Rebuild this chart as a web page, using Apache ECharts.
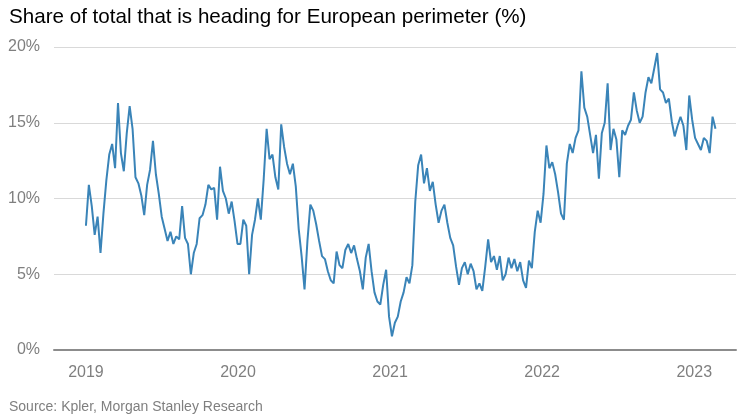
<!DOCTYPE html>
<html>
<head>
<meta charset="utf-8">
<script src="https://cdn.jsdelivr.net/npm/echarts@6/dist/echarts.min.js"></script>
<style>
html,body{margin:0;padding:0;background:#fff;}
#chart{width:737px;height:419px;}
</style>
</head>
<body>
<div id="chart"></div>
<script>
// Weekly readings starting 2019-01-01 (share heading for European perimeter, %)
const startYear = 2019;
const stepDays = 7;
const values = [
8.2,10.9,9.5,7.6,8.8,6.4,9.0,11.2,12.9,13.6,
12.0,16.3,13.0,11.8,14.3,16.1,14.6,11.4,11.0,10.2,
8.9,10.9,11.9,13.8,11.6,10.3,8.8,8.0,7.2,7.8,
7.0,7.5,7.3,9.5,7.4,7.0,5.0,6.4,7.0,8.7,
8.9,9.6,10.9,10.6,10.7,8.6,12.1,10.5,10.0,9.0,
9.8,8.5,7.0,7.0,8.6,8.2,5.0,7.6,8.6,10.0,
8.6,11.3,14.6,12.6,12.9,11.4,10.6,14.9,13.4,12.3,
11.6,12.3,10.8,8.0,6.2,4.0,7.2,9.6,9.2,8.3,
7.2,6.2,6.0,5.2,4.6,4.4,6.5,5.6,5.4,6.6,
7.0,6.4,6.9,6.0,5.2,4.0,6.1,7.0,5.2,3.8,
3.2,3.0,4.3,5.3,2.2,0.9,1.8,2.2,3.2,3.8,
4.8,4.4,5.6,9.8,12.2,12.9,11.0,12.0,10.5,11.1,
9.6,8.4,9.2,9.6,8.4,7.4,6.9,5.5,4.3,5.4,
5.8,5.0,5.7,5.2,4.0,4.4,3.9,5.5,7.3,5.8,
6.2,5.3,6.2,4.6,5.0,6.1,5.4,6.0,5.2,5.8,
4.6,4.1,5.9,5.4,7.8,9.2,8.4,10.3,13.5,12.0,
12.4,11.6,10.4,9.0,8.6,12.3,13.6,13.0,14.0,14.5,
18.4,16.0,15.4,14.2,13.0,14.2,11.3,14.3,15.0,17.6,
13.2,14.6,13.9,11.4,14.5,14.2,14.8,15.2,17.0,15.8,
15.0,15.4,17.0,18.0,17.6,18.6,19.6,17.2,17.0,16.3,
16.6,15.1,14.1,14.8,15.4,14.8,13.2,16.8,15.2,14.0,
13.6,13.2,14.0,13.8,13.0,15.4,14.6
];
const yearTicks = [2019, 2020, 2021, 2022, 2023];
const yTicks = [0, 5, 10, 15, 20];
const titleText = 'Share of total that is heading for European perimeter (%)';
const sourceText = 'Source: Kpler, Morgan Stanley Research';

const seriesData = values.map((v, i) => [startYear + i * stepDays / 365.25, v]);

const FONT = '"Liberation Sans", Arial, sans-serif';
const chart = echarts.init(document.getElementById('chart'), null, {renderer: 'canvas'});
chart.setOption({
  animation: false,
  backgroundColor: '#ffffff',
  title: [{
    text: titleText, left: 4, top: 2,
    textStyle: {fontFamily: FONT, fontSize: 20.6, fontWeight: 'normal', color: '#000000'}
  }, {
    text: sourceText, left: 4, top: 395,
    textStyle: {fontFamily: FONT, fontSize: 14, fontWeight: 'normal', color: '#7f7f7f'}
  }],
  grid: {left: 54, right: 1, top: 47, bottom: 69, containLabel: false},
  xAxis: {
    type: 'value',
    min: 2018.79, max: 2023.2746,
    splitLine: {show: false},
    axisTick: {show: false},
    axisLine: {show: true, lineStyle: {color: '#8c8c8c', width: 2}},
    axisLabel: {
      customValues: yearTicks,
      formatter: v => String(Math.round(v)),
      color: '#7f7f7f', fontFamily: FONT, fontSize: 16, margin: 15
    }
  },
  yAxis: {
    type: 'value', min: yTicks[0], max: yTicks[yTicks.length - 1], interval: 5,
    axisLine: {show: false}, axisTick: {show: false},
    splitLine: {show: true, lineStyle: {color: '#d9d9d9', width: 1}},
    axisLabel: {formatter: '{value}%', color: '#7f7f7f', fontFamily: FONT, fontSize: 16, margin: 14}
  },
  series: [{
    type: 'line', data: seriesData, showSymbol: false, symbol: 'none',
    lineStyle: {color: '#3a84b8', width: 2}, z: 3
  }]
});
</script>
</body>
</html>
